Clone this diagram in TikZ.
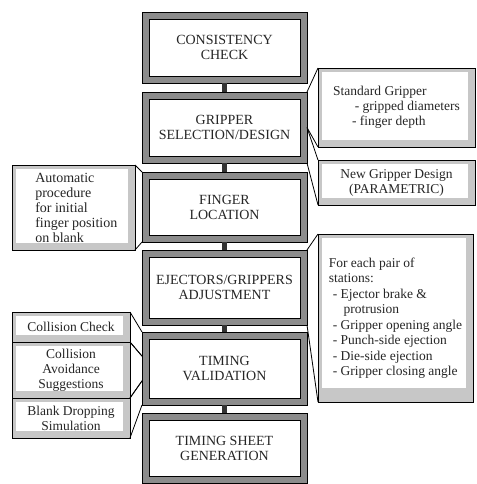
\documentclass[tikz,border=0pt]{standalone}
\usepackage{fontspec}
\setmainfont{Liberation Serif}
\usetikzlibrary{calc}
\begin{document}
\begin{tikzpicture}[x=1pt,y=-1pt,
  mainbox/.style={draw=black, line width=0.9pt, fill=black!45, outer sep=0pt, inner sep=0pt,
    minimum width=165pt, align=center, text=black!85, font=\fontsize{14}{15}\selectfont,
    path picture={\draw[line width=0.7pt, fill=white]
      ([shift={(7pt,-7pt)}]path picture bounding box.north west) rectangle
      ([shift={(-7pt,7pt)}]path picture bounding box.south east);}},
  sidebox/.style={draw=black, line width=0.8pt, fill=black!22, outer sep=0pt, inner sep=0pt,
    text=black!85, font=\fontsize{13.5}{15}\selectfont,
    path picture={\fill[white]
      ([shift={(4pt,-4pt)}]path picture bounding box.north west) rectangle
      ([shift={(-7pt,7pt)}]path picture bounding box.south east);}},
  sideboxbig/.style={draw=black, line width=0.8pt, fill=black!22, outer sep=0pt, inner sep=0pt,
    text=black!85, font=\fontsize{13.5}{15.5}\selectfont,
    path picture={\fill[white]
      ([shift={(4pt,-4pt)}]path picture bounding box.north west) rectangle
      ([shift={(-7pt,14pt)}]path picture bounding box.south east);}},
  bar/.style={line width=5pt, draw=black!80},
  callout/.style={line width=0.8pt, draw=black}
]
\useasboundingbox (0,0) rectangle (476,484);

% main column
\node[mainbox, minimum height=71pt] (cc)  at (224.5,47.5)  {CONSISTENCY\\CHECK};
\node[mainbox, minimum height=71pt] (gsd) at (224.5,127.5) {GRIPPER\\SELECTION/DESIGN};
\node[mainbox, minimum height=70pt] (fl)  at (224.5,207)   {FINGER\\LOCATION};
\node[mainbox, minimum height=75pt] (ej)  at (224.5,287.5) {EJECTORS/GRIPPERS\\ADJUSTMENT};
\node[mainbox, minimum height=73pt] (tv)  at (224.5,368.5) {TIMING\\VALIDATION};
\node[mainbox, minimum height=70pt] (tsg) at (224.5,448)   {TIMING SHEET\\GENERATION};

\foreach \a/\b in {cc/gsd,gsd/fl,fl/ej,ej/tv,tv/tsg}
  \draw[bar] (\a.south) -- (\b.north);

% side boxes
\node[sidebox, minimum width=157pt, minimum height=79pt, align=left] (std) at (396.5,107.5)
  {Standard Gripper\\\hspace*{1.6em}- gripped diameters\\\hspace*{1.4em}- finger depth};
\node[sidebox, minimum width=157pt, minimum height=45pt, align=center] (new) at (396.5,182.5)
  {New Gripper Design\\(PARAMETRIC)};
\node[sidebox, minimum width=123pt, minimum height=85pt, align=left,
  font=\fontsize{14}{15}\selectfont] (auto) at (73.5,207.5)
  {\hspace*{0.4em}Automatic\\\hspace*{0.4em}procedure\\\hspace*{0.4em}for initial\\\hspace*{0.4em}finger position\\\hspace*{0.4em}on blank};
\node[sideboxbig, minimum width=155pt, minimum height=168pt, align=left] (each) at (395.5,318)
  {For each pair of\\stations:\\\hspace*{0.3em}- Ejector brake \&\\\hspace*{1.1em}protrusion\\\hspace*{0.3em}- Gripper opening angle\\\hspace*{0.3em}- Punch-side ejection\\\hspace*{0.3em}- Die-side ejection\\\hspace*{0.3em}- Gripper closing angle};
\node[sidebox, minimum width=118pt, minimum height=30pt] (ck) at (71,327) {Collision Check};
\node[sidebox, minimum width=118pt, minimum height=56pt, align=center] (ca) at (71,370)
  {Collision\\Avoidance\\Suggestions};
\node[sidebox, minimum width=118pt, minimum height=40pt, align=center] (bd) at (71,418)
  {Blank Dropping\\Simulation};

% callout connectors
\coordinate (t1) at ($(tv.north west)!0.33!(tv.south west)$);
\coordinate (t2) at ($(tv.north west)!0.67!(tv.south west)$);
\draw[callout] (std.north west) -- (gsd.north east);
\draw[callout] (std.south west) -- (gsd.east);
\draw[callout] (new.north west) -- (gsd.east);
\draw[callout] (new.south west) -- (gsd.south east);
\draw[callout] (auto.north east) -- (fl.north west);
\draw[callout] (auto.south east) -- (fl.south west);
\draw[callout] (each.north west) -- (ej.north east);
\draw[callout] (each.south west) -- (ej.south east);
\draw[callout] (ck.north east) -- (tv.north west);
\draw[callout] (ck.south east) -- (t1);
\draw[callout] (ca.north east) -- (t1);
\draw[callout] (ca.south east) -- (t2);
\draw[callout] (bd.north east) -- (t2);
\draw[callout] (bd.south east) -- (tv.south west);
\end{tikzpicture}
\end{document}
